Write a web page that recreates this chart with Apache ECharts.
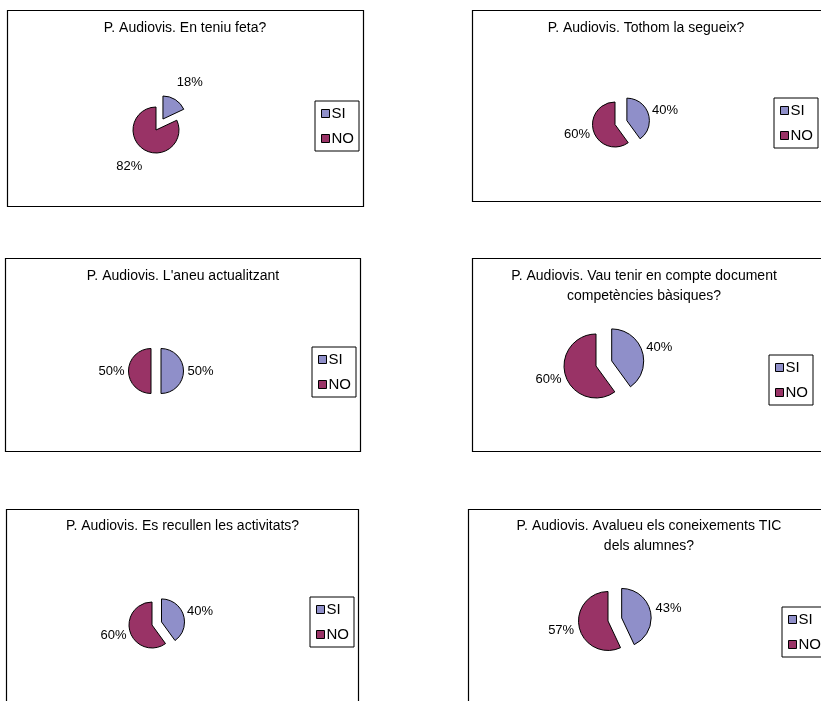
<!DOCTYPE html>
<html>
<head>
<meta charset="utf-8">
<title>P. Audiovis</title>
<script src="https://cdn.jsdelivr.net/npm/echarts@6/dist/echarts.min.js"></script>
<style>
  html, body { margin: 0; padding: 0; background: #fff; }
  #chart { width: 821px; height: 701px; }
</style>
</head>
<body>
<div id="chart"></div>
<script>
const categories = ['SI', 'NO']
const titles = [
  'P. Audiovis. En teniu feta?',
  'P. Audiovis. Tothom la segueix?',
  "P. Audiovis. L'aneu actualitzant",
  'P. Audiovis. Vau tenir en compte document\ncompetències bàsiques?',
  'P. Audiovis. Es recullen les activitats?',
  'P. Audiovis. Avalueu els coneixements TIC\ndels alumnes?'
]
const siValues = [18, 40, 50, 40, 40, 43]
const noValues = [82, 60, 50, 60, 60, 57]

const colorList = ['#8f8fc9', '#993366']
const fontFamily = "'Liberation Sans', Arial, sans-serif"

// frame box, title centre/top, pie centre + radius, explode offset of SI, label gap, legend corner
const panels = [
  { box: [7, 10, 356, 196], title: [185, 18], center: [156, 130], r: 23, off: 13, gap: 14, legend: [315, 101] },
  { box: [472, 10, 360, 191], title: [646, 18], center: [615, 124.5], r: 22.5, off: 12.5, gap: 4.5, legend: [774, 98] },
  { box: [5, 258, 355, 193], title: [183, 266], center: [151, 371], r: 22.5, off: 10, gap: 4, legend: [312, 347] },
  { box: [472, 258, 360, 193], title: [644, 266], center: [596, 366], r: 32, off: 16.5, gap: 5, legend: [769, 355] },
  { box: [6, 509, 352, 220], title: [182.5, 516], center: [152, 625], r: 23, off: 10, gap: 4.5, legend: [310, 597] },
  { box: [468, 509, 360, 220], title: [649, 516], center: [608, 621], r: 29.5, off: 14, gap: 5.5, legend: [782, 607] }
]

// mid angle of each slice, clockwise from 12 o'clock
function sliceAngles(i) {
  const vals = [siValues[i], noValues[i]]
  const total = vals[0] + vals[1]
  let start = 0
  return vals.map(v => {
    const mid = (start + v / 2) / total * Math.PI * 2
    start += v
    return mid
  })
}

// put each label just outside its slice, like the spreadsheet does
function labelLayoutFor(i, center) {
  const p = panels[i]
  const mids = sliceAngles(i)
  return function (params) {
    const dx = Math.sin(mids[params.dataIndex])
    const dy = -Math.cos(mids[params.dataIndex])
    const w = params.labelRect.width
    const h = params.labelRect.height
    return {
      x: center[0] + dx * (p.r + p.gap) + dx * w / 2,
      y: center[1] + dy * (p.r + p.gap) + dy * h / 2,
      align: 'center',
      verticalAlign: 'middle'
    }
  }
}

const hiddenSlice = {
  itemStyle: { color: 'rgba(0,0,0,0)', borderWidth: 0 },
  label: { show: false },
  emphasis: { disabled: true }
}

function pieSeries(i, center, data) {
  return {
    type: 'pie',
    center: center,
    radius: panels[i].r,
    startAngle: 90,
    clockwise: true,
    avoidLabelOverlap: false,
    itemStyle: {
      borderColor: '#000',
      borderWidth: 1
    },
    emphasis: { scale: false },
    label: {
      show: true,
      position: 'outside',
      formatter: '{d}%',
      color: '#000',
      fontFamily: fontFamily,
      fontSize: 13
    },
    labelLine: { show: false },
    labelLayout: labelLayoutFor(i, center),
    data: data
  }
}

// every panel: one pie holding NO, one pie (pulled out) holding SI
const series = []
panels.forEach((p, i) => {
  const mids = sliceAngles(i)
  const shifted = [p.center[0] + Math.sin(mids[0]) * p.off, p.center[1] - Math.cos(mids[0]) * p.off]
  series.push(pieSeries(i, p.center, [
    Object.assign({ name: categories[0], value: siValues[i] }, hiddenSlice),
    { name: categories[1], value: noValues[i], itemStyle: { color: colorList[1] } }
  ]))
  series.push(pieSeries(i, shifted, [
    { name: categories[0], value: siValues[i], itemStyle: { color: colorList[0] } },
    Object.assign({ name: categories[1], value: noValues[i] }, hiddenSlice)
  ]))
})

const chart = echarts.init(document.getElementById('chart'))

chart.setOption({
  animation: false,
  color: colorList,
  title: panels.map((p, i) => ({
    text: titles[i],
    left: p.title[0],
    top: p.title[1],
    textAlign: 'center',
    padding: 0,
    textStyle: {
      color: '#000',
      fontFamily: fontFamily,
      fontSize: 14,
      fontWeight: 'normal',
      lineHeight: 20
    }
  })),
  legend: panels.map(p => ({
    data: categories.map((name, k) => ({
      name: name,
      itemStyle: { color: colorList[k], borderColor: '#000', borderWidth: 1 }
    })),
    orient: 'vertical',
    left: p.legend[0],
    top: p.legend[1],
    icon: 'rect',
    itemWidth: 8,
    itemHeight: 8,
    itemGap: 10,
    padding: [5, 5, 5, 6],
    borderColor: '#000',
    borderWidth: 1,
    selectedMode: false,
    textStyle: {
      color: '#000',
      fontFamily: fontFamily,
      fontSize: 15,
      padding: [0, 0, 0, -3]
    }
  })),
  graphic: panels.map(p => ({
    type: 'rect',
    silent: true,
    shape: { x: p.box[0] + 0.5, y: p.box[1] + 0.5, width: p.box[2], height: p.box[3] },
    style: { fill: 'none', stroke: '#000', lineWidth: 1.2 }
  })),
  series: series
})
</script>
</body>
</html>
